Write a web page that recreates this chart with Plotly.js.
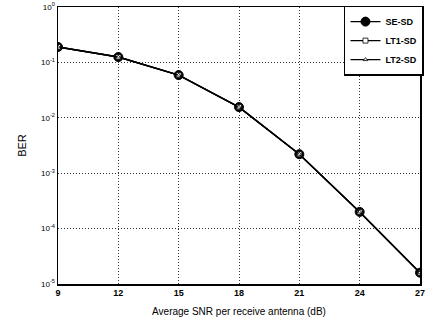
<!DOCTYPE html>
<html><head><meta charset="utf-8">
<script src="https://cdn.plot.ly/plotly-3.0.1.min.js"></script>
<style>body{margin:0;padding:0;background:#fff}#chart{width:426px;height:331px}</style>
</head><body><div id="chart"></div>
<script>
const snr = [9, 12, 15, 18, 21, 24, 27];
const berSE = [0.19, 0.125, 0.059, 0.0156, 0.0022, 0.0002, 0.000016];
const berLT1 = [0.19, 0.125, 0.059, 0.0156, 0.0022, 0.0002, 0.000016];
const berLT2 = [0.19, 0.125, 0.059, 0.0156, 0.0022, 0.0002, 0.000016];
const yTickVals = [1, 0.1, 0.01, 0.001, 0.0001, 0.00001];
const yTickText = ['10<sup>0</sup>', '10<sup>-1</sup>', '10<sup>-2</sup>', '10<sup>-3</sup>', '10<sup>-4</sup>', '10<sup>-5</sup>'];
const xTickVals = [9, 12, 15, 18, 21, 24, 27];

const traces = [
  {x: snr, y: berSE, name: 'SE-SD', mode: 'lines+markers', line: {color: '#000', width: 1.4},
   marker: {symbol: 'circle', size: 9, color: '#000', line: {color: '#000', width: 1}}},
  {x: snr, y: berLT1, name: 'LT1-SD', mode: 'lines+markers', line: {color: '#000', width: 1.4},
   marker: {symbol: 'square', size: 5, color: '#fff', line: {color: '#000', width: 0.8}}},
  {x: snr, y: berLT2, name: 'LT2-SD', mode: 'lines+markers', line: {color: '#000', width: 1.4},
   marker: {symbol: 'triangle-up', size: 4, color: '#fff', line: {color: '#000', width: 0.8}}}
];

const layout = {
  width: 426, height: 331,
  margin: {l: 58, r: 2, t: 7, b: 47},
  paper_bgcolor: '#fff', plot_bgcolor: '#fff',
  font: {family: 'Liberation Sans, Arial, sans-serif', color: '#000'},
  showlegend: true,
  legend: {x: 0.79, y: 1.005, xanchor: 'left', yanchor: 'top', bgcolor: '#fff',
    bordercolor: '#000', borderwidth: 1.5, font: {size: 9, family: 'Liberation Sans, Arial, sans-serif', weight: 'bold'},
    tracegroupgap: 0},
  xaxis: {range: [9, 27], tickvals: xTickVals, ticks: '', showgrid: true,
    gridcolor: '#333', griddash: '1px,2px', gridwidth: 1, ticklabeloverflow: 'allow',
    showline: true, linecolor: '#000', linewidth: 1.5, mirror: true, zeroline: false,
    tickfont: {size: 9, weight: 'bold'}, title: {text: 'Average SNR per receive antenna (dB)', font: {size: 10}, standoff: 10}},
  yaxis: {type: 'log', range: [-5, 0], tickvals: yTickVals, ticktext: yTickText, ticks: '',
    showgrid: true, gridcolor: '#333', griddash: '1px,2px', gridwidth: 1,
    showline: true, linecolor: '#000', linewidth: 1.5, mirror: true, zeroline: false,
    tickfont: {size: 8}, title: {text: 'BER', font: {size: 11}, standoff: 12}}
};
Plotly.newPlot('chart', traces, layout, {staticPlot: true, displayModeBar: false});
</script></body></html>
